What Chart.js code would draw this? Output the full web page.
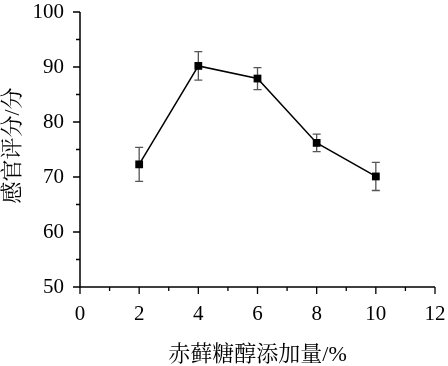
<!DOCTYPE html>
<html>
<head>
<meta charset="utf-8">
<script src="https://cdn.jsdelivr.net/npm/chart.js@4/dist/chart.umd.min.js"></script>
<style>
html,body{margin:0;padding:0;background:#fff;}
#wrap{width:448px;height:366px;}
</style>
</head>
<body>
<div id="wrap"><canvas id="c" width="448" height="366"></canvas></div>
<script>
const xValues = [2, 4, 6, 8, 10];
const scores = [72.3, 90.2, 87.9, 76.2, 70.1];
const errors = [3.1, 2.6, 2.0, 1.6, 2.55];
const xTicks = [0, 2, 4, 6, 8, 10, 12];
const yTicks = [50, 60, 70, 80, 90, 100];
const xTitle = '赤藓糖醇添加量/%';
const yTitle = '感官评分/分';

const FONT = '"Liberation Serif", "Noto Serif CJK SC", "Noto Sans CJK SC", serif';

const errorBarPlugin = {
  id: 'errorBars',
  beforeDatasetsDraw(chart) {
    const ctx = chart.ctx, xs = chart.scales.x, ys = chart.scales.y;
    ctx.save();
    ctx.strokeStyle = '#555';
    ctx.lineWidth = 1.3;
    xValues.forEach((xv, i) => {
      const px = xs.getPixelForValue(xv);
      const top = ys.getPixelForValue(scores[i] + errors[i]);
      const bot = ys.getPixelForValue(scores[i] - errors[i]);
      ctx.beginPath();
      ctx.moveTo(px, top); ctx.lineTo(px, bot);
      ctx.moveTo(px - 4, top); ctx.lineTo(px + 4, top);
      ctx.moveTo(px - 4, bot); ctx.lineTo(px + 4, bot);
      ctx.stroke();
    });
    ctx.restore();
  }
};

const axisPlugin = {
  id: 'axisDecor',
  afterDraw(chart) {
    const ctx = chart.ctx, xs = chart.scales.x, ys = chart.scales.y;
    const area = chart.chartArea;
    ctx.save();
    ctx.strokeStyle = '#000';
    ctx.lineWidth = 1.5;
    ctx.beginPath();
    ctx.moveTo(area.left, area.top);
    ctx.lineTo(area.left, area.bottom);
    ctx.lineTo(area.right, area.bottom);
    ctx.stroke();
    ctx.lineWidth = 1.3;
    ctx.beginPath();
    for (let v = xs.min; v <= xs.max; v += 1) {
      const px = xs.getPixelForValue(v);
      const len = (v % 2 === 0) ? 7 : 4;
      ctx.moveTo(px, area.bottom); ctx.lineTo(px, area.bottom + len);
    }
    for (let v = ys.min; v <= ys.max; v += 5) {
      const py = ys.getPixelForValue(v);
      const len = (v % 10 === 0) ? 7 : 4;
      ctx.moveTo(area.left, py); ctx.lineTo(area.left - len, py);
    }
    ctx.stroke();

    ctx.fillStyle = '#000';
    ctx.font = '21px ' + FONT;
    ctx.textAlign = 'right';
    ctx.textBaseline = 'middle';
    yTicks.forEach(v => ctx.fillText(String(v), area.left - 16, ys.getPixelForValue(v)));
    ctx.textAlign = 'center';
    xTicks.forEach(v => ctx.fillText(String(v), xs.getPixelForValue(v), area.bottom + 27));

    ctx.font = '22px ' + FONT;
    ctx.fillText(xTitle, (area.left + area.right) / 2, 355);
    ctx.translate(13, (area.top + area.bottom) / 2 - 4);
    ctx.rotate(-Math.PI / 2);
    ctx.fillText(yTitle, 0, 0);
    ctx.restore();
  }
};

new Chart(document.getElementById('c'), {
  type: 'scatter',
  data: {
    datasets: [{
      data: xValues.map((x, i) => ({x: x, y: scores[i]})),
      showLine: true,
      borderColor: '#000',
      borderWidth: 1.5,
      backgroundColor: '#000',
      pointStyle: 'rect',
      pointRadius: 5.5,
      pointHoverRadius: 5.5,
      pointBorderWidth: 0
    }]
  },
  options: {
    responsive: false,
    animation: false,
    devicePixelRatio: 1,
    layout: {padding: {top: 12, right: 13, left: 0, bottom: 0}},
    plugins: {legend: {display: false}, tooltip: {enabled: false}},
    scales: {
      x: {
        type: 'linear', min: 0, max: 12,
        afterBuildTicks(s) { s.ticks = xTicks.map(v => ({value: v})); },
        afterFit(s) { s.height = 366 - 287; },
        grid: {display: false, drawTicks: false},
        border: {display: false},
        ticks: {display: false}
      },
      y: {
        type: 'linear', min: 50, max: 100,
        afterBuildTicks(s) { s.ticks = yTicks.map(v => ({value: v})); },
        afterFit(s) { s.width = 80; },
        grid: {display: false, drawTicks: false},
        border: {display: false},
        ticks: {display: false}
      }
    }
  },
  plugins: [errorBarPlugin, axisPlugin]
});
</script>
</body>
</html>
